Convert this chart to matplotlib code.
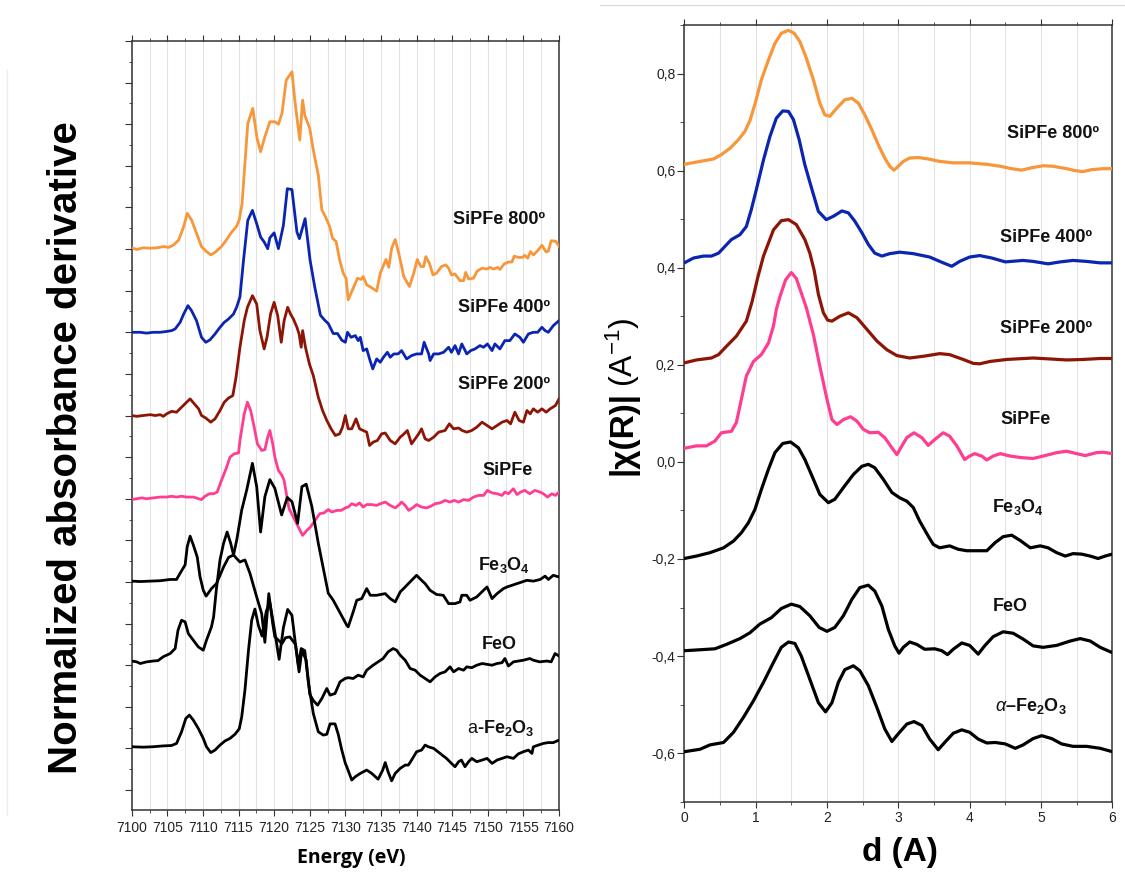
import matplotlib
matplotlib.use('Agg')
import matplotlib.pyplot as plt
from matplotlib.ticker import MultipleLocator, FuncFormatter
from matplotlib.lines import Line2D

plt.rcParams['font.family'] = ['Liberation Sans', 'DejaVu Sans']
plt.rcParams['mathtext.fontset'] = 'custom'
plt.rcParams['mathtext.rm'] = 'Liberation Sans'
plt.rcParams['mathtext.bf'] = 'Liberation Sans:bold'
plt.rcParams['mathtext.it'] = 'Liberation Sans:italic'
plt.rcParams['axes.unicode_minus'] = False

# ---------------- XANES derivative data (energy eV, derivative relative to own baseline) -------------
XANES_800 = [(7100.0,0.03),(7100.7,-0.01),(7101.6,0.03),(7102.6,0.02),(7103.5,0.03),(7104.5,0.06),(7105.2,0.04),
    (7105.9,0.10),(7106.6,0.22),(7107.3,0.54),(7107.8,0.86),(7108.4,0.70),(7109.1,0.38),(7109.8,0.06),(7110.5,-0.06),
    (7111.1,-0.14),(7111.7,-0.08),(7112.6,0.06),(7113.3,0.22),(7114.0,0.40),(7114.7,0.54),(7115.1,0.70),(7115.5,1.10),
    (7115.8,1.82),(7116.3,3.02),(7117.0,3.38),(7117.6,2.66),(7118.1,2.34),(7118.7,2.70),(7119.4,3.06),(7120.1,3.06),
    (7120.6,3.00),(7121.1,3.26),(7121.7,4.06),(7122.5,4.26),(7122.9,3.58),(7123.6,2.62),(7124.0,3.58),(7124.3,3.22),
    (7125.0,2.90),(7125.5,2.38),(7126.2,1.78),(7126.7,0.94),(7127.2,0.78),(7127.8,0.54),(7128.2,0.26),(7128.7,0.18),
    (7129.2,-0.26),(7129.7,-0.58),(7130.1,-0.70),(7130.4,-1.22),(7131.1,-0.94),(7131.7,-0.70),(7132.2,-0.73),
    (7132.5,-0.66),(7133.0,-0.86),(7133.7,-0.93),(7134.4,-1.01),(7134.9,-0.58),(7135.7,-0.25),(7136.1,-0.44),
    (7136.5,0.02),(7137.0,0.23),(7137.5,-0.10),(7138.2,-0.66),(7139.0,-0.90),(7139.6,-0.58),(7140.1,-0.25),
    (7140.6,-0.42),(7141.0,-0.42),(7141.3,-0.18),(7141.8,-0.34),(7142.3,-0.62),(7142.8,-0.58),(7143.5,-0.42),
    (7144.1,-0.38),(7144.5,-0.46),(7144.9,-0.62),(7145.4,-0.60),(7146.1,-0.76),(7146.6,-0.76),(7146.9,-0.56),
    (7147.3,-0.72),(7148.0,-0.70),(7148.5,-0.53),(7149.2,-0.46),(7149.9,-0.48),(7150.3,-0.44),(7150.8,-0.48),
    (7151.4,-0.44),(7151.7,-0.49),(7152.3,-0.36),(7152.9,-0.31),(7153.4,-0.31),(7153.7,-0.17),(7154.3,-0.20),
    (7154.9,-0.20),(7155.2,-0.15),(7155.6,-0.22),(7156.0,-0.06),(7156.4,-0.14),(7157.0,-0.04),(7157.6,0.09),
    (7158.2,-0.07),(7158.5,-0.05),(7158.9,0.20),(7159.5,0.19),(7160.0,0.07)]

XANES_400 = [(7100.0,0.0),(7101.2,0.0),(7102.1,-0.02),(7103.0,0.0),(7104.0,0.0),(7104.9,0.02),(7105.6,0.04),
    (7106.1,0.08),(7106.8,0.24),(7107.3,0.44),(7107.9,0.64),(7108.4,0.52),(7109.1,0.28),(7109.8,-0.12),(7110.4,-0.24),
    (7111.0,-0.18),(7111.7,-0.04),(7112.4,0.12),(7113.0,0.24),(7113.6,0.32),(7114.3,0.44),(7114.75,0.61),(7115.2,0.85),
    (7115.7,1.73),(7116.3,2.69),(7116.95,2.93),(7117.55,2.61),(7118.1,2.29),(7118.6,2.17),(7119.1,2.01),(7119.4,2.27),
    (7120.0,2.39),(7120.6,2.01),(7121.3,2.57),(7121.85,3.45),(7122.5,3.43),(7123.2,2.41),(7123.55,2.25),(7124.35,2.73),
    (7125.05,1.73),(7125.7,1.09),(7126.5,0.41),(7127.1,0.29),(7127.6,0.21),(7128.3,-0.03),(7128.9,-0.03),(7129.5,-0.19),
    (7130.0,-0.24),(7130.3,0.0),(7130.8,-0.12),(7131.4,-0.08),(7131.8,-0.20),(7132.1,-0.12),(7132.5,-0.44),(7133.0,-0.40),
    (7133.4,-0.64),(7133.85,-0.88),(7134.4,-0.64),(7134.9,-0.72),(7135.35,-0.60),(7135.9,-0.48),(7136.3,-0.60),
    (7136.8,-0.52),(7137.4,-0.52),(7137.9,-0.44),(7138.6,-0.64),(7139.3,-0.56),(7140.0,-0.52),(7140.7,-0.52),
    (7141.06,-0.24),(7141.7,-0.52),(7141.9,-0.68),(7142.4,-0.52),(7143.1,-0.52),(7143.8,-0.48),(7144.5,-0.36),
    (7144.9,-0.48),(7145.4,-0.32),(7145.9,-0.52),(7146.35,-0.28),(7147.05,-0.52),(7147.6,-0.44),(7148.2,-0.40),
    (7148.9,-0.32),(7149.4,-0.36),(7149.95,-0.28),(7150.6,-0.44),(7151.0,-0.28),(7151.7,-0.40),(7152.4,-0.20),
    (7153.1,-0.20),(7153.8,-0.04),(7154.5,-0.12),(7155.0,-0.24),(7155.7,-0.04),(7156.4,0.0),(7157.0,0.0),(7157.6,0.12),
    (7158.05,0.04),(7158.5,0.0),(7159.2,0.16),(7160.0,0.28)]

XANES_200 = [(7100.0,0.0),(7100.7,-0.02),(7101.6,0.0),(7102.6,0.02),(7103.3,0.0),(7104.0,0.02),(7104.45,-0.02),
    (7104.9,0.04),(7105.6,0.10),(7106.3,0.08),(7107.0,0.20),(7107.6,0.30),(7108.2,0.40),(7108.8,0.28),(7109.4,0.16),
    (7109.8,0.0),(7110.4,-0.06),(7111.1,-0.16),(7111.7,-0.08),(7112.4,0.12),(7113.0,0.32),(7113.6,0.42),(7114.2,0.48),
    (7114.65,0.92),(7115.2,1.64),(7115.8,2.28),(7116.25,2.60),(7116.95,2.88),(7117.55,2.68),(7118.0,2.04),(7118.6,1.60),
    (7119.0,1.88),(7119.5,2.44),(7120.0,2.72),(7120.5,2.40),(7121.0,1.76),(7121.4,2.28),(7121.9,2.60),(7122.3,2.44),
    (7122.7,2.32),(7123.2,2.12),(7123.5,1.96),(7123.8,1.64),(7124.0,2.04),(7124.4,1.64),(7124.95,1.24),(7125.5,0.96),
    (7126.2,0.44),(7126.8,0.12),(7127.4,-0.12),(7128.0,-0.32),(7128.6,-0.48),(7129.2,-0.44),(7129.6,-0.28),(7130.0,0.0),
    (7130.4,-0.32),(7130.9,-0.32),(7131.5,-0.08),(7132.0,-0.32),(7132.5,-0.36),(7133.0,-0.40),(7133.4,-0.72),
    (7133.9,-0.64),(7134.5,-0.60),(7135.1,-0.44),(7135.6,-0.42),(7136.3,-0.60),(7137.0,-0.68),(7137.7,-0.52),
    (7138.25,-0.44),(7138.7,-0.36),(7139.3,-0.68),(7139.8,-0.56),(7140.3,-0.44),(7140.7,-0.32),(7141.2,-0.56),
    (7141.7,-0.60),(7142.4,-0.52),(7143.1,-0.40),(7144.0,-0.36),(7144.6,-0.20),(7145.2,-0.32),(7145.9,-0.30),
    (7146.4,-0.36),(7147.05,-0.40),(7147.75,-0.36),(7148.45,-0.28),(7149.2,-0.16),(7149.9,-0.24),(7150.6,-0.32),
    (7151.3,-0.24),(7152.0,-0.16),(7152.7,-0.12),(7153.2,-0.20),(7153.8,0.08),(7154.4,-0.12),(7155.0,-0.16),
    (7155.5,0.12),(7155.95,0.04),(7156.4,0.16),(7157.0,0.08),(7157.6,0.16),(7158.2,0.08),(7158.75,0.16),(7159.5,0.24),
    (7160.0,0.40)]

XANES_SIPFE = [(7100.0,-0.02),(7100.7,0.0),(7101.4,0.02),(7102.1,0.0),(7103.0,0.02),(7104.0,0.04),(7104.9,0.04),
    (7105.6,0.06),(7106.3,0.04),(7107.0,0.06),(7107.7,0.04),(7108.7,0.04),(7109.4,0.0),(7109.8,-0.02),(7110.3,0.06),
    (7110.9,0.12),(7111.5,0.12),(7112.0,0.16),(7112.6,0.44),(7113.25,0.72),(7113.8,1.0),(7114.4,1.08),(7115.0,1.10),
    (7115.2,1.40),(7115.8,2.04),(7116.25,2.32),(7116.7,2.12),(7117.2,1.72),(7117.65,1.32),(7118.26,1.16),(7118.7,1.18),
    (7119.1,1.48),(7119.4,1.64),(7119.8,1.32),(7120.1,1.0),(7120.6,0.68),(7121.1,0.56),(7121.4,0.44),(7121.8,0.04),
    (7122.1,-0.24),(7122.7,-0.44),(7123.4,-0.68),(7124.0,-0.88),(7124.6,-0.76),(7125.1,-0.68),(7125.75,-0.52),
    (7126.4,-0.36),(7127.0,-0.34),(7127.6,-0.26),(7128.1,-0.32),(7128.8,-0.28),(7129.4,-0.28),(7130.0,-0.22),
    (7130.4,-0.20),(7130.9,-0.12),(7131.5,-0.16),(7132.0,-0.10),(7132.5,-0.20),(7133.0,-0.14),(7133.7,-0.14),
    (7134.4,-0.16),(7134.9,-0.12),(7135.6,-0.08),(7136.3,-0.16),(7137.0,-0.22),(7137.45,-0.16),(7137.9,-0.08),
    (7138.4,-0.16),(7138.9,-0.28),(7139.6,-0.20),(7140.0,-0.14),(7140.7,-0.20),(7141.4,-0.22),(7142.0,-0.18),
    (7142.6,-0.12),(7143.3,-0.10),(7144.0,-0.04),(7144.7,-0.08),(7145.3,-0.04),(7145.9,-0.08),(7146.6,-0.02),
    (7147.3,-0.04),(7148.0,0.04),(7148.7,0.08),(7149.4,0.08),(7149.95,0.20),(7150.6,0.14),(7151.3,0.12),(7152.0,0.08),
    (7152.4,0.16),(7152.9,0.12),(7153.6,0.24),(7154.1,0.10),(7154.6,0.16),(7155.2,0.20),(7155.9,0.12),(7156.6,0.20),
    (7157.35,0.16),(7157.8,0.12),(7158.4,0.04),(7159.0,0.12),(7159.5,0.08),(7160.0,0.16)]

XANES_FE3O4 = [(7100.0,0.02),(7101.2,0.01),(7102.6,0.02),(7104.0,0.03),(7105.4,0.06),(7106.3,0.06),(7106.8,0.21),
    (7107.5,0.41),(7107.8,0.85),(7108.2,1.10),(7108.65,0.89),(7109.2,0.60),(7109.6,0.12),(7110.05,-0.20),(7110.45,-0.34),
    (7111.2,-0.16),(7111.9,-0.04),(7112.9,0.36),(7113.6,0.59),(7114.3,0.65),(7114.75,1.01),(7115.45,1.73),(7116.15,2.21),
    (7116.95,2.85),(7117.55,2.29),(7118.1,1.20),(7118.7,2.05),(7119.4,2.46),(7120.1,2.25),(7121.05,1.61),(7121.85,2.03),
    (7122.5,1.93),(7123.3,1.41),(7123.9,2.29),(7124.5,2.35),(7125.3,1.81),(7126.2,0.93),(7127.6,-0.27),(7128.3,-0.44),
    (7129.25,-0.74),(7130.2,-1.04),(7130.4,-1.08),(7131.1,-0.72),(7131.6,-0.44),(7132.3,-0.40),(7133.0,-0.16),
    (7133.5,-0.32),(7134.4,-0.32),(7135.6,-0.28),(7136.3,-0.40),(7137.0,-0.48),(7137.7,-0.24),(7138.4,-0.12),
    (7139.3,0.04),(7140.0,0.16),(7140.7,0.04),(7141.2,-0.04),(7141.9,-0.20),(7142.8,-0.30),(7143.75,-0.32),
    (7144.5,-0.52),(7145.4,-0.52),(7146.1,-0.48),(7146.35,-0.32),(7147.05,-0.32),(7147.5,-0.44),(7148.45,-0.36),
    (7149.4,-0.20),(7149.9,-0.12),(7150.6,-0.40),(7151.3,-0.28),(7152.2,-0.16),(7152.7,-0.12),(7153.4,-0.08),
    (7154.1,-0.04),(7154.8,0.0),(7155.5,0.04),(7156.4,0.02),(7157.35,0.06),(7158.05,0.14),(7158.5,0.06),(7159.2,0.16),
    (7160.0,0.12)]

XANES_FEO = [(7100.0,0.10),(7100.7,0.08),(7101.2,0.04),(7102.1,0.08),(7103.0,0.10),(7103.7,0.11),(7104.4,0.20),
    (7105.4,0.28),(7106.1,0.40),(7106.5,0.84),(7107.0,1.08),(7107.5,1.04),(7107.95,0.76),(7108.65,0.60),(7109.35,0.44),
    (7110.05,0.36),(7110.5,0.60),(7111.2,0.92),(7111.5,1.16),(7111.9,1.84),(7112.4,2.53),(7112.9,2.93),(7113.4,3.20),
    (7113.9,2.93),(7114.3,2.65),(7114.75,2.56),(7115.2,2.48),(7115.9,2.53),(7116.6,2.21),(7117.55,1.64),(7118.25,1.24),
    (7118.7,0.55),(7119.25,1.72),(7119.8,1.00),(7120.1,0.68),(7121.1,0.52),(7121.6,0.66),(7122.2,0.68),(7123.0,0.50),
    (7123.5,-0.16),(7123.9,0.36),(7124.5,0.12),(7125.0,-0.70),(7125.5,-0.85),(7126.1,-0.96),(7126.7,-0.80),
    (7127.4,-0.56),(7127.85,-0.72),(7128.55,-0.68),(7129.25,-0.40),(7129.96,-0.32),(7130.4,-0.30),(7131.1,-0.32),
    (7131.8,-0.24),(7132.5,-0.28),(7133.0,-0.12),(7133.9,0.0),(7134.6,0.08),(7135.3,0.16),(7136.0,0.32),(7136.7,0.40),
    (7137.2,0.36),(7137.7,0.24),(7138.4,0.12),(7139.1,-0.08),(7139.8,-0.12),(7140.5,-0.24),(7141.2,-0.32),
    (7141.9,-0.40),(7142.6,-0.28),(7143.3,-0.20),(7144.0,-0.16),(7144.7,-0.04),(7145.2,-0.16),(7145.9,-0.08),
    (7146.6,-0.12),(7147.05,-0.04),(7147.75,-0.06),(7148.45,0.0),(7149.2,0.04),(7149.9,0.02),(7150.6,0.0),(7151.3,0.04),
    (7152.0,0.06),(7152.4,0.16),(7152.9,-0.02),(7153.6,0.08),(7154.3,0.10),(7155.0,0.12),(7155.9,0.16),(7156.4,0.12),
    (7157.3,0.08),(7158.3,0.10),(7158.9,0.08),(7159.45,0.28),(7160.0,0.22)]

XANES_FE2O3 = [(7100.0,0.04),(7101.6,0.03),(7103.0,0.04),(7104.4,0.06),(7105.6,0.07),(7106.3,0.12),(7107.0,0.40),
    (7107.6,0.72),(7108.1,0.80),(7108.65,0.68),(7109.35,0.48),(7110.05,0.24),(7110.5,0.04),(7111.1,-0.10),(7111.7,-0.04),
    (7112.4,0.08),(7113.1,0.18),(7113.8,0.24),(7114.5,0.34),(7115.1,0.47),(7115.45,0.76),(7115.9,1.40),(7116.4,2.36),
    (7116.85,3.08),(7117.3,3.35),(7117.8,2.95),(7118.3,2.70),(7118.9,3.30),(7119.4,3.50),(7120.0,2.90),(7120.7,2.14),
    (7121.3,2.90),(7121.9,3.34),(7122.5,3.20),(7123.0,2.50),(7123.4,2.00),(7123.8,2.40),(7124.3,2.35),(7124.8,1.60),
    (7125.5,0.84),(7126.2,0.40),(7126.9,0.32),(7127.4,0.34),(7127.85,0.59),(7128.55,0.59),(7129.0,0.34),(7129.5,-0.04),
    (7130.0,-0.36),(7130.2,-0.44),(7130.9,-0.76),(7131.4,-0.68),(7132.1,-0.60),(7133.0,-0.52),(7133.7,-0.60),
    (7134.6,-0.74),(7135.25,-0.52),(7135.6,-0.34),(7136.0,-0.56),(7136.5,-0.78),(7137.0,-0.60),(7137.7,-0.48),
    (7138.4,-0.40),(7138.85,-0.40),(7139.3,-0.28),(7140.0,-0.08),(7140.7,-0.04),(7141.2,0.08),(7141.65,0.04),
    (7142.4,0.0),(7143.3,-0.12),(7144.2,-0.24),(7144.9,-0.36),(7145.4,-0.44),(7145.9,-0.32),(7146.3,-0.28),
    (7146.8,-0.44),(7147.3,-0.32),(7147.75,-0.24),(7148.45,-0.32),(7149.2,-0.28),(7149.9,-0.24),(7150.6,-0.36),
    (7151.3,-0.28),(7152.0,-0.24),(7152.7,-0.20),(7153.6,-0.24),(7154.3,-0.13),(7155.0,-0.08),(7155.7,-0.04),
    (7156.2,-0.12),(7156.4,0.04),(7157.1,0.08),(7157.8,0.12),(7158.5,0.14),(7159.2,0.14),(7160.0,0.20)]

XANES_SERIES = [XANES_800, XANES_400, XANES_200, XANES_SIPFE, XANES_FE3O4, XANES_FEO, XANES_FE2O3]
XANES_OFFSETS = [13, 11, 9, 7, 5, 3, 1]
XANES_LABELS = ['SiPFe 800º', 'SiPFe 400º', 'SiPFe 200º', 'SiPFe',
                r'Fe$_\mathbf{3}$O$_\mathbf{4}$', 'FeO', r'$\mathrm{a}$-Fe$_\mathbf{2}$O$_\mathbf{3}$']
XANES_LABEL_POS = [(7145.1, 13.60), (7145.8, 11.49), (7145.8, 9.63), (7149.3, 7.57),
                   (7148.6, 5.29), (7149.2, 3.40), (7147.1, 1.38)]

# ---------------- EXAFS Fourier transform data (d in A, |chi(R)| offset) ----------------
FT_800 = [(0.00,0.613),(0.22,0.619),(0.41,0.624),(0.52,0.633),(0.64,0.646),(0.76,0.664),(0.85,0.681),(0.92,0.703),
    (1.00,0.742),(1.08,0.787),(1.18,0.828),(1.27,0.862),(1.36,0.883),(1.46,0.889),(1.54,0.883),(1.62,0.866),
    (1.71,0.832),(1.81,0.787),(1.90,0.739),(1.97,0.715),(2.04,0.712),(2.14,0.729),(2.25,0.746),(2.35,0.749),
    (2.44,0.739),(2.53,0.715),(2.63,0.684),(2.72,0.653),(2.81,0.626),(2.88,0.609),(2.94,0.601),(3.00,0.609),
    (3.07,0.619),(3.16,0.626),(3.28,0.627),(3.42,0.624),(3.58,0.619),(3.77,0.616),(4.00,0.616),(4.24,0.613),
    (4.43,0.609),(4.59,0.604),(4.73,0.601),(4.87,0.606),(5.03,0.610),(5.17,0.609),(5.36,0.604),(5.48,0.600),
    (5.59,0.598),(5.71,0.602),(5.87,0.604),(6.00,0.604)]

FT_400 = [(0.00,0.410),(0.13,0.420),(0.27,0.424),(0.38,0.424),(0.48,0.430),(0.57,0.444),(0.66,0.458),(0.78,0.468),
    (0.87,0.485),(0.94,0.520),(1.01,0.561),(1.11,0.622),(1.20,0.670),(1.29,0.708),(1.38,0.723),(1.46,0.722),
    (1.53,0.705),(1.61,0.664),(1.69,0.612),(1.79,0.561),(1.88,0.516),(1.99,0.499),(2.09,0.506),(2.21,0.517),
    (2.30,0.513),(2.39,0.496),(2.49,0.472),(2.58,0.448),(2.67,0.430),(2.77,0.424),(2.88,0.429),(3.02,0.432),
    (3.21,0.429),(3.44,0.422),(3.63,0.410),(3.75,0.403),(3.86,0.413),(4.00,0.422),(4.14,0.425),(4.31,0.420),
    (4.50,0.412),(4.75,0.415),(4.89,0.413),(5.10,0.408),(5.27,0.412),(5.45,0.415),(5.64,0.413),(5.83,0.410),
    (6.00,0.410)]

FT_200 = [(0.00,0.204),(0.17,0.210),(0.38,0.214),(0.48,0.221),(0.59,0.238),(0.73,0.259),(0.87,0.290),(0.95,0.330),
    (1.03,0.380),(1.11,0.424),(1.25,0.478),(1.36,0.497),(1.46,0.499),(1.57,0.489),(1.69,0.458),(1.76,0.430),
    (1.82,0.395),(1.88,0.345),(1.95,0.307),(2.01,0.292),(2.07,0.290),(2.18,0.300),(2.30,0.307),(2.42,0.297),
    (2.56,0.273),(2.70,0.249),(2.84,0.231),(2.98,0.219),(3.16,0.214),(3.37,0.218),(3.58,0.223),(3.72,0.221),
    (3.91,0.211),(4.05,0.203),(4.14,0.202),(4.29,0.207),(4.52,0.211),(4.89,0.214),(5.13,0.212),(5.36,0.210),
    (5.59,0.211),(5.83,0.213),(6.00,0.213)]

FT_SIPFE = [(0.00,0.028),(0.17,0.033),(0.31,0.033),(0.43,0.043),(0.52,0.060),(0.66,0.063),(0.73,0.081),(0.80,0.129),
    (0.87,0.177),(0.97,0.207),(1.08,0.221),(1.18,0.245),(1.25,0.280),(1.29,0.314),(1.34,0.340),(1.42,0.375),
    (1.50,0.390),(1.57,0.378),(1.64,0.348),(1.71,0.318),(1.81,0.262),(1.90,0.197),(2.00,0.129),(2.07,0.087),
    (2.14,0.077),(2.23,0.087),(2.33,0.093),(2.42,0.084),(2.51,0.067),(2.60,0.060),(2.72,0.061),(2.81,0.050),
    (2.91,0.029),(2.98,0.015),(3.05,0.033),(3.12,0.050),(3.22,0.060),(3.33,0.050),(3.42,0.034),(3.51,0.046),
    (3.63,0.060),(3.72,0.053),(3.82,0.033),(3.93,0.005),(4.00,0.012),(4.07,0.017),(4.17,0.012),(4.24,0.004),
    (4.33,0.012),(4.43,0.017),(4.57,0.012),(4.71,0.009),(4.89,0.007),(5.03,0.012),(5.22,0.019),(5.36,0.022),
    (5.50,0.017),(5.62,0.013),(5.78,0.019),(5.87,0.020),(6.00,0.017)]

FT_FE3O4 = [(0.00,-0.199),(0.17,-0.194),(0.36,-0.187),(0.55,-0.177),(0.69,-0.163),(0.80,-0.146),(0.90,-0.125),
    (0.99,-0.098),(1.08,-0.057),(1.18,-0.015),(1.27,0.019),(1.38,0.038),(1.49,0.041),(1.60,0.029),(1.69,0.005),
    (1.79,-0.029),(1.90,-0.067),(2.02,-0.084),(2.11,-0.077),(2.23,-0.053),(2.37,-0.026),(2.49,-0.009),(2.58,-0.005),
    (2.67,-0.012),(2.79,-0.036),(2.91,-0.063),(3.02,-0.074),(3.12,-0.081),(3.21,-0.094),(3.30,-0.122),(3.42,-0.153),
    (3.49,-0.170),(3.58,-0.177),(3.72,-0.173),(3.84,-0.180),(3.96,-0.183),(4.10,-0.183),(4.24,-0.183),(4.36,-0.166),
    (4.47,-0.154),(4.59,-0.151),(4.71,-0.162),(4.85,-0.177),(4.99,-0.173),(5.10,-0.177),(5.22,-0.187),(5.34,-0.194),
    (5.45,-0.189),(5.57,-0.190),(5.69,-0.194),(5.80,-0.199),(5.90,-0.194),(6.00,-0.190)]

FT_FEO = [(0.00,-0.389),(0.22,-0.387),(0.43,-0.385),(0.59,-0.376),(0.78,-0.364),(0.92,-0.352),(1.06,-0.334),
    (1.22,-0.321),(1.36,-0.302),(1.50,-0.293),(1.62,-0.298),(1.76,-0.317),(1.89,-0.341),(2.00,-0.349),(2.11,-0.341),
    (2.23,-0.317),(2.35,-0.283),(2.46,-0.259),(2.58,-0.254),(2.67,-0.266),(2.77,-0.297),(2.86,-0.345),(2.95,-0.379),
    (3.01,-0.394),(3.07,-0.382),(3.16,-0.371),(3.26,-0.376),(3.37,-0.386),(3.51,-0.385),(3.61,-0.389),(3.69,-0.397),
    (3.77,-0.386),(3.89,-0.373),(4.00,-0.378),(4.12,-0.396),(4.21,-0.379),(4.33,-0.360),(4.47,-0.350),(4.61,-0.353),
    (4.75,-0.365),(4.89,-0.379),(5.03,-0.382),(5.22,-0.378),(5.41,-0.369),(5.55,-0.364),(5.69,-0.369),(5.83,-0.382),
    (6.00,-0.393)]

FT_FE2O3 = [(0.00,-0.597),(0.22,-0.592),(0.36,-0.583),(0.55,-0.578),(0.69,-0.557),(0.83,-0.526),(0.97,-0.492),
    (1.11,-0.454),(1.25,-0.413),(1.36,-0.382),(1.46,-0.371),(1.55,-0.374),(1.64,-0.400),(1.76,-0.448),(1.88,-0.496),
    (1.98,-0.515),(2.07,-0.496),(2.16,-0.454),(2.25,-0.428),(2.37,-0.420),(2.46,-0.430),(2.58,-0.461),(2.70,-0.506),
    (2.81,-0.550),(2.91,-0.576),(3.00,-0.560),(3.12,-0.540),(3.22,-0.535),(3.33,-0.543),(3.44,-0.571),(3.56,-0.593),
    (3.65,-0.578),(3.77,-0.559),(3.89,-0.552),(4.00,-0.557),(4.12,-0.571),(4.24,-0.579),(4.36,-0.578),(4.50,-0.581),
    (4.64,-0.590),(4.75,-0.583),(4.89,-0.570),(5.01,-0.564),(5.15,-0.570),(5.29,-0.581),(5.45,-0.586),(5.64,-0.586),
    (5.83,-0.590),(6.00,-0.597)]

FT_SERIES = [FT_800, FT_400, FT_200, FT_SIPFE, FT_FE3O4, FT_FEO, FT_FE2O3]
FT_LABELS = ['SiPFe 800º', 'SiPFe 400º', 'SiPFe 200º', 'SiPFe',
             r'Fe$_\mathbf{3}$O$_\mathbf{4}$', 'FeO', r'$\alpha$–Fe$_\mathbf{2}$O$_\mathbf{3}$']
FT_LABEL_POS = [(4.52, 0.667), (4.43, 0.452), (4.43, 0.266), (4.43, 0.079),
                (4.31, -0.1025), (4.32, -0.308), (4.36, -0.513)]

COLORS = ['#F7963A', '#0B25B0', '#8C1506', '#FF3D91', '#000000', '#000000', '#000000']

# ---------------- figure ----------------
fig = plt.figure(figsize=(11.25, 8.75), dpi=100)
axL = fig.add_axes([131.7/1125, 1-810/875, (559-131.7)/1125, (810-41)/875])
axR = fig.add_axes([684.3/1125, 1-801.7/875, (1112.3-684.3)/1125, (801.7-25)/875])

spine_col = '#333333'

# Left panel
for series, off, col in zip(XANES_SERIES, XANES_OFFSETS, COLORS):
    e, d = zip(*series)
    axL.plot(e, [v + off for v in d], color=col, lw=2.0, solid_joinstyle='round', zorder=3)
for lab, (x, y) in zip(XANES_LABELS, XANES_LABEL_POS):
    axL.text(x, y, lab, fontsize=13, fontweight='bold', ha='left', va='baseline', color='#111111')

axL.set_xlim(7100, 7160)
axL.set_ylim(-0.48, 18.0)
axL.xaxis.set_major_locator(MultipleLocator(5))
axL.xaxis.set_minor_locator(MultipleLocator(2.5))
axL.yaxis.set_major_locator(MultipleLocator(1))
axL.yaxis.set_minor_locator(MultipleLocator(0.5))
axL.tick_params(axis='x', which='both', direction='out', top=True, bottom=True, labelsize=10,
                colors=spine_col, labelcolor='#222222', pad=4)
axL.tick_params(axis='x', which='major', length=4)
axL.tick_params(axis='x', which='minor', length=2)
axL.tick_params(axis='y', which='both', direction='out', left=True, right=False, labelleft=False, colors=spine_col)
axL.tick_params(axis='y', which='major', length=5)
axL.tick_params(axis='y', which='minor', length=2.5)
axL.grid(axis='x', which='both', color='#e2e2e2', lw=0.8, zorder=0)
for s in axL.spines.values():
    s.set_color(spine_col)
    s.set_linewidth(1.1)

# Right panel
for series, col in zip(FT_SERIES, COLORS):
    r, m = zip(*series)
    axR.plot(r, m, color=col, lw=2.3, solid_joinstyle='round', solid_capstyle='round', zorder=3)
for lab, (x, y) in zip(FT_LABELS, FT_LABEL_POS):
    axR.text(x, y, lab, fontsize=13, fontweight='bold', ha='left', va='baseline', color='#111111')

axR.set_xlim(0, 6)
axR.set_ylim(-0.7, 0.9)
axR.xaxis.set_major_locator(MultipleLocator(1))
axR.xaxis.set_minor_locator(MultipleLocator(0.5))
axR.yaxis.set_major_locator(MultipleLocator(0.2))
axR.yaxis.set_minor_locator(MultipleLocator(0.1))
axR.yaxis.set_major_formatter(FuncFormatter(lambda v, p: ('%.1f' % v).replace('.', ',').replace('-0,0', '0,0')))
axR.tick_params(axis='x', which='both', direction='out', top=True, bottom=True, labelsize=10,
                colors=spine_col, labelcolor='#222222', pad=3)
axR.tick_params(axis='x', which='major', length=4)
axR.tick_params(axis='x', which='minor', length=2)
axR.tick_params(axis='y', which='both', direction='out', left=True, right=False, labelsize=10,
                colors=spine_col, labelcolor='#222222', pad=1.5)
axR.tick_params(axis='y', which='major', length=5)
axR.tick_params(axis='y', which='minor', length=3)
axR.grid(axis='x', which='both', color='#e2e2e2', lw=0.8, zorder=0)
for s in axR.spines.values():
    s.set_color(spine_col)
    s.set_linewidth(1.1)

# Axis titles
fig.text(66/1125, 1-448/875, 'Normalized absorbance derivative', rotation=90, ha='center', va='center',
         fontsize=29, fontweight='bold', family=['Liberation Sans', 'DejaVu Sans'])
fig.text(351.7/1125, 1-863/875, 'Energy (eV)', ha='center', va='baseline', fontsize=14, fontweight='bold',
         family=['Open Sans', 'DejaVu Sans'])
fig.text(900/1125, 1-861/875, 'd (A)', ha='center', va='baseline', fontsize=24, fontweight='bold')
fig.text(623/1125, 1-433/875, '|χ(R)|', rotation=90, ha='center', va='center', fontsize=24, fontweight='bold')
fig.text(623/1125, 1-352/875, '(A$^{-1}$)', rotation=90, ha='center', va='center', fontsize=23)

# faint page border lines of the original
fig.add_artist(Line2D([600/1125, 1.0], [1-5/875, 1-5/875], color='#dddddd', lw=1))
fig.add_artist(Line2D([6.5/1125, 6.5/1125], [1-70/875, 1-815/875], color='#ececec', lw=1))

fig.savefig('out.png', dpi=100)
